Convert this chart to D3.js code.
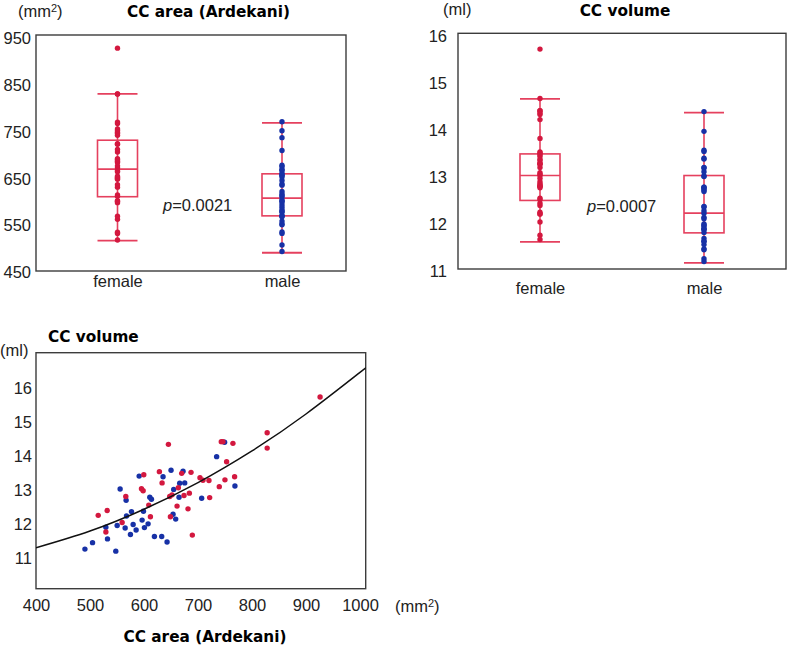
<!DOCTYPE html>
<html><head><meta charset="utf-8">
<script src="https://cdn.jsdelivr.net/npm/d3@7"></script>
<style>body{margin:0;background:#fff}svg{display:block}</style>
</head><body>
<svg id="c" width="787" height="650"></svg>
<script>
// ---------------- data ----------------
const groups = ["female", "male"];
const femaleArea = [515.2,529.4,531.8,559.5,566.3,595.3,598.4,599.6,608.8,611.9,628.5,633.5,645.2,647.6,648.9,651.9,661.2,663.6,669.8,674.1,681.5,684.0,687.1,689.5,703.7,709.2,720.3,721.6,739.4,743.1,746.2,749.9,753.0,764.7,767.8,828.1,828.1,926.1];
const femaleVolume = [12.23,11.74,12.37,12.02,12.78,13.01,12.95,13.42,12.53,12.19,13.51,13.18,14.31,12.78,12.19,12.83,12.50,13.04,13.46,12.81,12.42,12.88,13.49,11.65,13.33,13.26,13.25,12.75,13.07,14.39,14.39,13.27,13.80,14.34,13.36,14.65,14.20,15.70];
const maleArea = [490.6,504.7,529.4,532.4,547.8,550.3,555.8,565.1,566.9,567.6,574.9,576.8,579.9,585.4,591.0,596.5,599.0,600.8,607.6,610.7,613.8,619.3,632.8,635.3,642.7,650.1,653.8,655.0,658.7,664.9,666.1,672.3,675.4,706.8,734.5,749.3,768.4];
const maleVolume = [11.24,11.43,11.88,11.54,11.18,11.93,13.00,11.86,12.67,12.21,11.67,12.34,11.96,11.80,13.38,12.09,12.35,11.87,11.98,12.76,12.70,11.61,11.61,13.36,11.45,13.55,12.26,12.99,12.12,12.76,13.17,13.52,13.18,12.73,13.95,14.37,13.09];
// box stats: [lower whisker, Q1, median, Q3, upper whisker]
const areaBoxFemale = [514, 608, 667, 729, 828];
const areaBoxMale = [488, 567, 605, 657, 766];
const volumeBoxFemale = [11.60, 12.48, 13.01, 13.47, 14.64];
const volumeBoxMale = [11.15, 11.79, 12.21, 13.01, 14.35];
const areaTicks = [450, 550, 650, 750, 850, 950];
const volumeTicks = [11, 12, 13, 14, 15, 16];
const scatterXTicks = [400, 500, 600, 700, 800, 900, 1000];
const fitArea = [400, 500, 600, 700, 800, 900, 1000, 1012];
const fitVolume = [11.28, 11.77, 12.41, 13.19, 14.12, 15.20, 16.42, 16.56];
const pAreaText = "=0.0021";
const pVolumeText = "=0.0007";

// ---------------- style ----------------
const RED = "#d3183f", BLUE = "#1731a6", BOX = "#e5405e", FRAME = "#3c3c3c";
const FONT = "'Liberation Sans', Arial, sans-serif";
const TFONT = "'DejaVu Sans', sans-serif";
const FS = 16.5;
const svg = d3.select("#c");

function unitLabel(x, y, base, sup, close) {
  const t = svg.append("text").attr("x", x).attr("y", y)
    .attr("font-family", FONT).attr("font-size", FS).attr("fill", "#222");
  t.append("tspan").text(base);
  if (sup) {
    t.append("tspan").attr("dy", -5).attr("font-size", 11).text(sup);
    t.append("tspan").attr("dy", 5).text(close);
  }
  return t;
}
function title(x, y, txt, anchor) {
  svg.append("text").attr("x", x).attr("y", y).attr("text-anchor", anchor || "middle")
    .attr("font-family", TFONT).attr("font-weight", "bold").attr("font-size", 15.3)
    .attr("fill", "#000").text(txt);
}

function boxPanel(cfg) {
  const g = svg.append("g");
  const y = d3.scaleLinear().domain(cfg.yDomain).range(cfg.yRange);
  const x = d3.scalePoint().domain(groups).range(cfg.xCenters);
  g.append("rect").attr("x", cfg.frame[0]).attr("y", cfg.frame[1])
    .attr("width", cfg.frame[2] - cfg.frame[0]).attr("height", cfg.frame[3] - cfg.frame[1])
    .attr("fill", "none").attr("stroke", FRAME).attr("stroke-width", 1.4);
  const ya = g.append("g").attr("transform", `translate(${cfg.frame[0]},0)`)
    .call(d3.axisLeft(y).tickValues(cfg.ticks).tickSize(0).tickPadding(cfg.tickPad).tickFormat(d3.format("d")));
  ya.select(".domain").remove();
  ya.selectAll("text").attr("font-family", FONT).attr("font-size", FS).attr("fill", "#222").attr("dy", "0.42em");
  const xa = g.append("g").attr("transform", `translate(0,${cfg.frame[3]})`)
    .call(d3.axisBottom(x).tickSize(0).tickPadding(cfg.xPad));
  xa.select(".domain").remove();
  xa.selectAll("text").attr("font-family", FONT).attr("font-size", FS).attr("fill", "#222");
  const half = 20;
  cfg.boxes.forEach((b, i) => {
    const cx = x(groups[i]);
    g.append("line").attr("x1", cx).attr("x2", cx).attr("y1", y(b[0])).attr("y2", y(b[4]))
      .attr("stroke", BOX).attr("stroke-width", 1.6);
    [b[0], b[4]].forEach(v => g.append("line").attr("x1", cx - half).attr("x2", cx + half)
      .attr("y1", y(v)).attr("y2", y(v)).attr("stroke", BOX).attr("stroke-width", 1.8));
    g.append("rect").attr("x", cx - half).attr("width", 2 * half)
      .attr("y", y(b[3])).attr("height", y(b[1]) - y(b[3]))
      .attr("fill", "none").attr("stroke", BOX).attr("stroke-width", 1.6);
    g.append("line").attr("x1", cx - half).attr("x2", cx + half).attr("y1", y(b[2])).attr("y2", y(b[2]))
      .attr("stroke", BOX).attr("stroke-width", 1.6);
    g.selectAll(null).data(cfg.values[i]).enter().append("circle")
      .attr("cx", cx).attr("cy", d => y(d)).attr("r", 2.7)
      .attr("fill", i === 0 ? RED : BLUE);
  });
  const pt = g.append("text").attr("x", cfg.pPos[0]).attr("y", cfg.pPos[1])
    .attr("font-family", FONT).attr("font-size", FS).attr("fill", "#222");
  pt.append("tspan").attr("font-style", "italic").text("p");
  pt.append("tspan").text(cfg.pText);
}

// ---------------- top-left: CC area ----------------
boxPanel({
  frame: [36, 35, 346, 271],
  yDomain: [450, 950], yRange: [270.5, 37],
  xCenters: [117.5, 282],
  ticks: areaTicks, tickPad: 5, xPad: 4,
  boxes: [areaBoxFemale, areaBoxMale],
  values: [femaleArea, maleArea],
  pPos: [163, 211], pText: pAreaText
});
unitLabel(18, 17, "(mm", "2", ")");
title(208.5, 17, "CC area (Ardekani)");

// ---------------- top-right: CC volume ----------------
boxPanel({
  frame: [458, 33.3, 786, 269],
  yDomain: [11, 16], yRange: [270, 35],
  xCenters: [540, 704],
  ticks: volumeTicks, tickPad: 11, xPad: 13,
  boxes: [volumeBoxFemale, volumeBoxMale],
  values: [femaleVolume, maleVolume],
  pPos: [587, 212], pText: pVolumeText
});
unitLabel(443, 15, "(ml)");
title(625, 16, "CC volume");

// ---------------- bottom: scatter ----------------
(function () {
  const fr = [36, 352.7, 365.7, 588.7];
  const x = d3.scaleLinear().domain([400, 1000]).range([36, 360]);
  const y = d3.scaleLinear().domain([11, 16]).range([557.3, 386.7]);
  const g = svg.append("g");
  g.append("clipPath").attr("id", "clipS").append("rect")
    .attr("x", fr[0]).attr("y", fr[1]).attr("width", fr[2] - fr[0]).attr("height", fr[3] - fr[1]);
  g.append("rect").attr("x", fr[0]).attr("y", fr[1]).attr("width", fr[2] - fr[0]).attr("height", fr[3] - fr[1])
    .attr("fill", "none").attr("stroke", FRAME).attr("stroke-width", 1.4);
  const ya = g.append("g").attr("transform", `translate(${fr[0]},0)`)
    .call(d3.axisLeft(y).tickValues(volumeTicks).tickSize(0).tickPadding(4).tickFormat(d3.format("d")));
  ya.select(".domain").remove();
  ya.selectAll("text").attr("font-family", FONT).attr("font-size", FS).attr("fill", "#222").attr("dy", "0.4em");
  const xa = g.append("g").attr("transform", `translate(0,${fr[3]})`)
    .call(d3.axisBottom(x).tickValues(scatterXTicks).tickSize(0).tickPadding(11).tickFormat(d3.format("d")));
  xa.select(".domain").remove();
  xa.selectAll("text").attr("font-family", FONT).attr("font-size", FS).attr("fill", "#222");
  g.selectAll(null).data(maleArea.map((a, i) => ({ x: a, y: maleVolume[i] }))).enter().append("circle")
    .attr("cx", d => x(d.x)).attr("cy", d => y(d.y)).attr("r", 2.7).attr("fill", BLUE);
  g.selectAll(null).data(femaleArea.map((a, i) => ({ x: a, y: femaleVolume[i] }))).enter().append("circle")
    .attr("cx", d => x(d.x)).attr("cy", d => y(d.y)).attr("r", 2.7).attr("fill", RED);
  const line = d3.line().x(d => x(d)).y((d, i) => y(fitVolume[i])).curve(d3.curveNatural);
  g.append("path").datum(fitArea).attr("d", line).attr("fill", "none")
    .attr("stroke", "#111").attr("stroke-width", 1.5).attr("clip-path", "url(#clipS)");
  unitLabel(0, 356, "(ml)");
  title(48, 342, "CC volume", "start");
  unitLabel(395, 612, "(mm", "2", ")");
  title(205, 642, "CC area (Ardekani)");
})();
</script>
</body></html>
